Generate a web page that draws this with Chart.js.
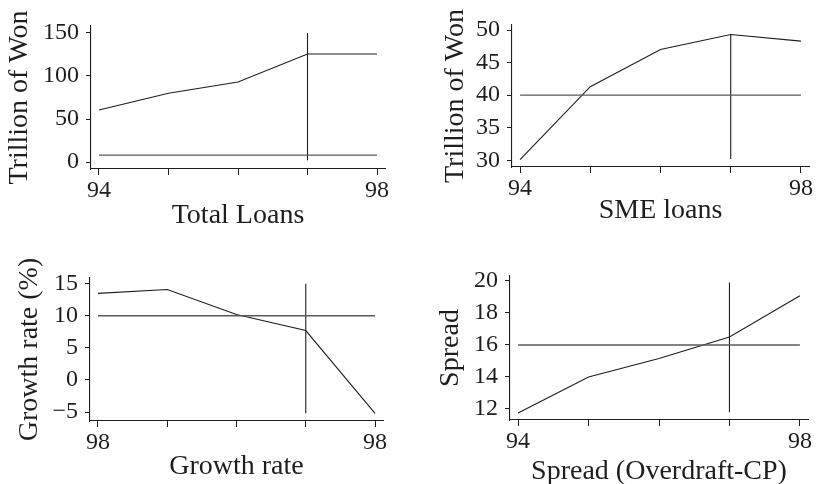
<!DOCTYPE html>
<html>
<head>
<meta charset="utf-8">
<script src="https://cdn.jsdelivr.net/npm/chart.js@4.4.1/dist/chart.umd.min.js"></script>
<style>
  html, body { margin: 0; padding: 0; background: #fff; }
  #wrap { position: relative; width: 816px; height: 484px; overflow: hidden; background: #fff; }
  #wrap canvas { position: absolute; }
</style>
</head>
<body>
<div id="wrap">
  <canvas id="totalLoansChart" width="408" height="242" style="left:0;top:0"></canvas>
  <canvas id="smeLoansChart" width="408" height="242" style="left:408px;top:0"></canvas>
  <canvas id="growthChart" width="408" height="242" style="left:0;top:242px"></canvas>
  <canvas id="spreadChart" width="408" height="242" style="left:408px;top:242px"></canvas>
</div>
<script>
// Horizontal positions of the five yearly observations
const xPositions = [0, 1, 2, 3, 4];
const yearTickLabels = ['94', '', '', '', '98'];
const growthTickLabels = ['98', '', '', '', '98'];
// Position of the vertical marker line
const markerIndex = 3;

// Total loans (trillion won)
const totalLoans = [60.5, 80, 93, 125.5, 125.5];
const totalLoansLevel = 8;
const totalLoansMarker = [2, 150];
const totalLoansTicks = [0, 50, 100, 150];

// SME loans (trillion won)
const smeLoans = [30.1, 41.3, 47, 49.3, 48.3];
const smeLoansLevel = 40;
const smeLoansMarker = [30.2, 49.3];
const smeLoansTicks = [30, 35, 40, 45, 50];

// Growth rate (%)
const growthRate = [13.5, 14.1, 10.2, 7.7, -5.2];
const growthRateLevel = 10;
const growthRateMarker = [-5.2, 15];
const growthRateTicks = [-5, 0, 5, 10, 15];

// Spread (overdraft minus CP)
const spread = [11.75, 14.0, 15.15, 16.5, 19.07];
const spreadLevel = 16;
const spreadMarker = [11.8, 19.9];
const spreadTicks = [12, 14, 16, 18, 20];

Chart.defaults.font.family = "'Liberation Serif', 'Times New Roman', serif";
Chart.defaults.color = '#222';

const INK = '#1e1e1e';
const TICK_FONT = 24;
const TITLE_FONT = 28;

function fmtTick(v) {
  return v < 0 ? '\u2212' + Math.abs(v) : String(v);
}

function makePanel(id, p) {
  const last = xPositions.length - 1;
  new Chart(document.getElementById(id), {
    type: 'line',
    data: {
      datasets: [
        {
          data: [{ x: xPositions[0], y: p.level }, { x: xPositions[last], y: p.level }],
          borderColor: '#5a5a5a', borderWidth: 1.4, pointRadius: 0
        },
        {
          data: [{ x: markerIndex, y: p.marker[0] }, { x: markerIndex, y: p.marker[1] }],
          borderColor: INK, borderWidth: 1.1, pointRadius: 0
        },
        {
          data: xPositions.map((x, i) => ({ x: x, y: p.values[i] })),
          borderColor: INK, borderWidth: 1.1, pointRadius: 0, tension: 0
        }
      ]
    },
    options: {
      responsive: false,
      animation: false,
      devicePixelRatio: 1,
      events: [],
      layout: { padding: { top: p.top, right: p.right, left: 0, bottom: 0 } },
      plugins: { legend: { display: false }, tooltip: { enabled: false }, title: { display: false } },
      scales: {
        x: {
          type: 'linear',
          min: -0.115, max: 4.115,
          afterBuildTicks: s => { s.ticks = xPositions.map(v => ({ value: v })); },
          afterFit: s => { s.height = p.xHeight; },
          ticks: {
            callback: (v, i) => p.xLabels[i],
            font: { size: TICK_FONT }, color: INK, padding: 1,
            maxRotation: 0, autoSkip: false
          },
          grid: { display: true, drawOnChartArea: false, drawTicks: true, tickLength: 6, tickColor: INK, tickWidth: 1 },
          border: { display: true, color: INK, width: 1.1 },
          title: { display: true, text: p.xTitle, font: { size: TITLE_FONT }, color: INK, padding: { top: 0, bottom: p.xTitlePad } }
        },
        y: {
          type: 'linear',
          min: p.yMin, max: p.yMax,
          afterBuildTicks: s => { s.ticks = p.yTicks.map(v => ({ value: v })); },
          afterFit: s => { s.width = p.left; },
          ticks: {
            callback: v => fmtTick(v),
            font: { size: TICK_FONT }, color: INK, padding: 7, autoSkip: false
          },
          grid: { display: true, drawOnChartArea: false, drawTicks: true, tickLength: 5, tickColor: INK, tickWidth: 1 },
          border: { display: true, color: INK, width: 1.1 },
          title: { display: true, text: p.yTitle, font: { size: TITLE_FONT }, color: INK, padding: { top: p.yTitlePad, bottom: 0 } }
        }
      }
    }
  });
}

makePanel('totalLoansChart', {
  values: totalLoans, level: totalLoansLevel, marker: totalLoansMarker, yTicks: totalLoansTicks,
  xLabels: yearTickLabels, xTitle: 'Total Loans', yTitle: 'Trillion of Won',
  yMin: -8.1, yMax: 158.1,
  top: 26, right: 23, left: 91, xHeight: 73, xTitlePad: 9.2, yTitlePad: 3
});

makePanel('smeLoansChart', {
  values: smeLoans, level: smeLoansLevel, marker: smeLoansMarker, yTicks: smeLoansTicks,
  xLabels: yearTickLabels, xTitle: 'SME loans', yTitle: 'Trillion of Won',
  yMin: 28.97, yMax: 50.77,
  top: 25, right: 7, left: 104, xHeight: 75, xTitlePad: 14.4, yTitlePad: 31.3
});

makePanel('growthChart', {
  values: growthRate, level: growthRateLevel, marker: growthRateMarker, yTicks: growthRateTicks,
  xLabels: growthTickLabels, xTitle: 'Growth rate', yTitle: 'Growth rate (%)',
  yMin: -6.4, yMax: 15.89,
  top: 36, right: 25, left: 90, xHeight: 63, xTitlePad: 0.5, yTitlePad: 13.2
});

makePanel('spreadChart', {
  values: spread, level: spreadLevel, marker: spreadMarker, yTicks: spreadTicks,
  xLabels: yearTickLabels, xTitle: 'Spread (Overdraft-CP)', yTitle: 'Spread',
  yMin: 11.31, yMax: 20.31,
  top: 34, right: 8, left: 102, xHeight: 64, xTitlePad: -4, yTitlePad: 25.7
});
</script>
</body>
</html>
